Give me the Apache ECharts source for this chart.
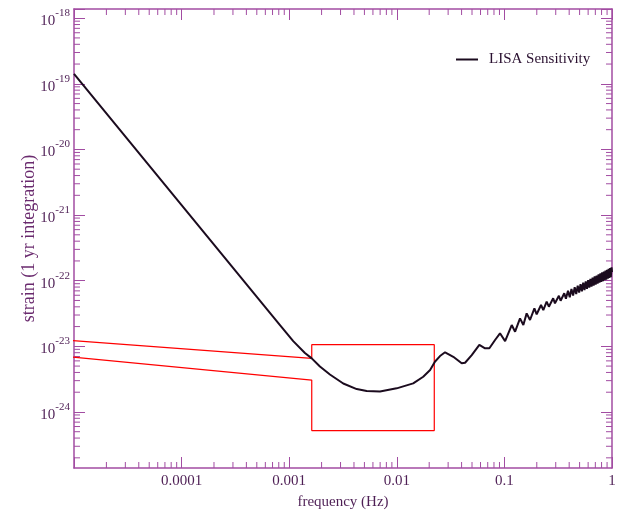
<!DOCTYPE html>
<html>
<head>
<meta charset="utf-8">
<script src="https://cdn.jsdelivr.net/npm/echarts@6/dist/echarts.min.js"></script>
<style>
  html, body { margin: 0; padding: 0; background: #fff; }
  #chart { width: 622px; height: 511px; }
</style>
</head>
<body>
<div id="chart"></div>
<script>
// LISA sensitivity curve: frequency (Hz), strain
const freq = [
  1e-5, 1e-4, 8.21e-4, 1.09e-3, 1.40e-3, 1.62e-3, 1.93e-3, 2.39e-3, 3.18e-3, 4.24e-3,
  5.25e-3, 6.98e-3, 9.97e-3, 1.42e-2, 1.76e-2, 2.04e-2, 2.26e-2, 2.52e-2, 2.81e-2, 3.35e-2,
  4.01e-2, 4.31e-2, 4.97e-2, 5.85e-2, 6.61e-2, 7.25e-2, 8.19e-2, 9.10e-2, 0.1015, 0.117,
  0.1257, 0.1397, 0.150, 0.161, 0.173, 0.190, 0.1995, 0.219, 0.230, 0.247,
  0.259, 0.284, 0.295, 0.321, 0.333, 0.360, 0.373, 0.39, 0.405, 0.42,
  0.435, 0.45, 0.465, 0.48, 0.495, 0.51, 0.525, 0.54, 0.555, 0.57,
  0.585, 0.60, 0.615, 0.63, 0.645, 0.66, 0.675, 0.69, 0.705, 0.72,
  0.735, 0.75, 0.765, 0.78, 0.795, 0.81, 0.825, 0.84, 0.855, 0.87,
  0.885, 0.90, 0.915, 0.93, 0.945, 0.96, 0.975, 0.99, 1.0
];
const strain = [
  1.42e-19, 1.42e-21, 2.11e-23, 1.20e-23, 7.91e-24, 6.56e-24, 4.92e-24, 3.72e-24, 2.71e-24, 2.23e-24,
  2.08e-24, 2.05e-24, 2.29e-24, 2.73e-24, 3.44e-24, 4.35e-24, 5.82e-24, 7.11e-24, 8.11e-24, 6.93e-24,
  5.51e-24, 5.62e-24, 7.36e-24, 1.05e-23, 9.33e-24, 9.33e-24, 1.25e-23, 1.58e-23, 1.20e-23, 2.11e-23,
  1.67e-23, 2.67e-23, 2.11e-23, 3.18e-23, 2.52e-23, 3.79e-23, 3.08e-23, 4.26e-23, 3.57e-23, 4.79e-23,
  4.02e-23, 5.40e-23, 4.52e-23, 5.90e-23, 4.95e-23, 6.43e-23, 5.30e-23, 7.00e-23, 5.60e-23, 7.46e-23,
  5.93e-23, 7.94e-23, 6.27e-23, 8.39e-23, 6.60e-23, 8.87e-23, 6.91e-23, 9.31e-23, 7.21e-23, 9.77e-23,
  7.54e-23, 1.02e-22, 7.84e-23, 1.07e-22, 8.14e-23, 1.11e-22, 8.43e-23, 1.16e-22, 8.73e-23, 1.20e-22,
  9.01e-23, 1.25e-22, 9.32e-23, 1.29e-22, 9.59e-23, 1.34e-22, 9.87e-23, 1.38e-22, 1.02e-22, 1.43e-22,
  1.04e-22, 1.47e-22, 1.07e-22, 1.52e-22, 1.10e-22, 1.56e-22, 1.13e-22, 1.60e-22, 1.35e-22
];

// red outline (runs off the left of the plot)
const boxFreq = [1e-6, 1.62e-3, 1.62e-3, 0.0223, 0.0223, 1.62e-3, 1.62e-3, 1e-6];
const boxStrain = [1.62e-23, 6.56e-24, 1.06e-23, 1.06e-23, 5.2e-25, 5.2e-25, 3.06e-24, 9.85e-24];

const xTickExps = [-4, -3, -2, -1, 0];
const xTickText = ['0.0001', '0.001', '0.01', '0.1', '1'];
const yTickExps = [-24, -23, -22, -21, -20, -19, -18];
const minorMult = [2, 3, 4, 5, 6, 7, 8, 9];
const xDecades = [-5, -4, -3, -2, -1];
const yDecades = [-25, -24, -23, -22, -21, -20, -19];

const xMin = 1e-5, xMax = 1;
const yMin = 1.4e-25, yMax = 1.38e-18;

const purple = '#a24ca2';
const labelColor = '#4e1f55';
const serif = '"Liberation Serif", "DejaVu Serif", serif';

const xMinor = [];
xDecades.forEach(d => minorMult.forEach(m => xMinor.push(m * Math.pow(10, d))));
const yMinor = [];
yDecades.forEach(d => minorMult.forEach(m => {
  const v = m * Math.pow(10, d);
  if (v > yMin && v < yMax) yMinor.push(v);
}));

function xLabel(v) {
  const lg = Math.log10(v);
  const e = Math.round(lg);
  if (Math.abs(lg - e) > 0.01) return '';
  const i = xTickExps.indexOf(e);
  return i < 0 ? '' : xTickText[i];
}
function yLabel(v) {
  const lg = Math.log10(v);
  const e = Math.round(lg);
  if (Math.abs(lg - e) > 0.01 || yTickExps.indexOf(e) < 0) return '';
  return '{b|10}{s|' + e + '}';
}

function xMinorItem(params, api) {
  const p = api.coord([api.value(0), api.value(1)]);
  const cs = params.coordSys;
  const bottom = cs.y + cs.height;
  return { type: 'group', children: [
    { type: 'line', shape: { x1: p[0], y1: bottom, x2: p[0], y2: bottom - 6 }, style: { stroke: purple, lineWidth: 1 } },
    { type: 'line', shape: { x1: p[0], y1: cs.y, x2: p[0], y2: cs.y + 6 }, style: { stroke: purple, lineWidth: 1 } }
  ]};
}
function yMinorItem(params, api) {
  const p = api.coord([api.value(0), api.value(1)]);
  const cs = params.coordSys;
  const right = cs.x + cs.width;
  return { type: 'group', children: [
    { type: 'line', shape: { x1: cs.x, y1: p[1], x2: cs.x + 6, y2: p[1] }, style: { stroke: purple, lineWidth: 1 } },
    { type: 'line', shape: { x1: right, y1: p[1], x2: right - 6, y2: p[1] }, style: { stroke: purple, lineWidth: 1 } }
  ]};
}

const frameLine = { show: true, onZero: false, lineStyle: { color: purple, width: 1.5 } };
const majorTick = { show: true, inside: true, length: 11, lineStyle: { color: purple, width: 1 } };

const chart = echarts.init(document.getElementById('chart'));
chart.setOption({
  animation: false,
  backgroundColor: '#fff',
  grid: { left: 74, right: 10, top: 9, bottom: 43, containLabel: false, outerBoundsMode: 'none' },
  legend: {
    data: ['LISA Sensitivity'],
    left: 451, top: 47,
    icon: 'rect', itemWidth: 22, itemHeight: 2,
    textStyle: { fontFamily: serif, fontSize: 15, color: '#2a1030', padding: [0, 0, 0, 6] }
  },
  xAxis: [
    {
      type: 'log', min: xMin, max: xMax, position: 'bottom',
      axisLine: frameLine, axisTick: majorTick, splitLine: { show: false },
      axisLabel: { formatter: xLabel, color: labelColor, fontFamily: serif, fontSize: 15, margin: 6 },
      name: 'frequency (Hz)', nameLocation: 'middle', nameGap: 27,
      nameTextStyle: { fontFamily: serif, fontSize: 15, color: labelColor }
    },
    {
      type: 'log', min: xMin, max: xMax, position: 'top',
      axisLine: frameLine, axisTick: majorTick, splitLine: { show: false },
      axisLabel: { show: false }
    }
  ],
  yAxis: [
    {
      type: 'log', min: yMin, max: yMax, position: 'left',
      axisLine: frameLine, axisTick: majorTick, splitLine: { show: false },
      axisLabel: {
        formatter: yLabel, margin: 4,
        rich: {
          b: { fontFamily: serif, fontSize: 15, color: labelColor, padding: [6, 0, 0, 0], verticalAlign: 'bottom' },
          s: { fontFamily: serif, fontSize: 11, color: labelColor, verticalAlign: 'top' }
        }
      },
      name: 'strain (1 yr integration)', nameLocation: 'middle', nameGap: 36, nameRotate: 90,
      nameMoveOverlap: false,
      nameTextStyle: { fontFamily: serif, fontSize: 18, color: '#6a2a6e' }
    },
    {
      type: 'log', min: yMin, max: yMax, position: 'right',
      axisLine: frameLine, axisTick: majorTick, splitLine: { show: false },
      axisLabel: { show: false }
    }
  ],
  series: [
    {
      name: 'box', type: 'line', clip: false, symbol: 'none', silent: true,
      lineStyle: { color: '#ff0000', width: 1.2 },
      data: boxFreq.map((f, i) => [f, boxStrain[i]])
    },
    {
      name: 'LISA Sensitivity', type: 'line', symbol: 'none',
      color: '#1b0b1e',
      lineStyle: { color: '#1b0b1e', width: 2 },
      data: freq.map((f, i) => [f, strain[i]])
    },
    {
      name: 'xminor', type: 'custom', silent: true, renderItem: xMinorItem,
      data: xMinor.map(v => [v, 1e-21])
    },
    {
      name: 'yminor', type: 'custom', silent: true, renderItem: yMinorItem,
      data: yMinor.map(v => [1e-3, v])
    }
  ]
});
</script>
</body>
</html>
